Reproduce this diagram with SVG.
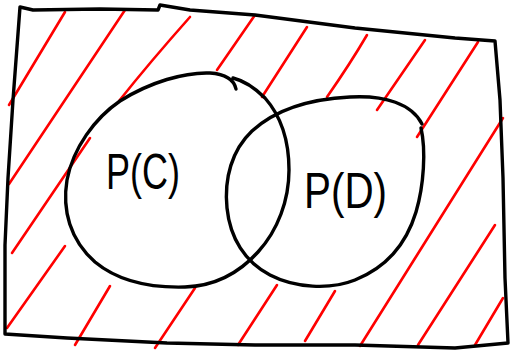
<svg xmlns="http://www.w3.org/2000/svg" width="510" height="356" viewBox="0 0 510 356">
<style>
.ink{fill:none;stroke:#000;stroke-width:3.4;stroke-linecap:round;stroke-linejoin:round}
.hatch{fill:none;stroke:#f00;stroke-width:2.6;stroke-linecap:round}
.lbl{font-family:"Liberation Sans",Arial,sans-serif;font-size:50px;fill:#000}
</style>
<rect width="510" height="356" fill="#fff"/>
<g id="hatching">
<path class="hatch" d="M65,12 L9,105"/>
<path class="hatch" d="M125,10 L9,184"/>
<path class="hatch" d="M190,17 Q150,62 119,101"/>
<path class="hatch" d="M90,138 L12,253"/>
<path class="hatch" d="M255,15 L217,70"/>
<path class="hatch" d="M307,27 L262,97"/>
<path class="hatch" d="M367,35 Q350,64 327,97"/>
<path class="hatch" d="M425,40 L377,110"/>
<path class="hatch" d="M478,42 L417,137"/>
<path class="hatch" d="M503,118 L360,346"/>
<path class="hatch" d="M495,225 L418,345"/>
<path class="hatch" d="M503,298 L475,345"/>
<path class="hatch" d="M335,291 L305,341"/>
<path class="hatch" d="M277,285 L238,345"/>
<path class="hatch" d="M195,288 L155,348"/>
<path class="hatch" d="M110,286 L75,345"/>
<path class="hatch" d="M65,246 L7,328"/>
</g>
<g id="frame">
<path class="ink" d="M20,7 L33,10 L100,9 L158,10 L160,5 L190,10 L255,15 L355,28 L455,38 L495,41 L500,100 L503,178 L505,278 L508,343 L455,348 L355,345 L255,345 L167,343 L67,338 L5,334 L5,245 L8,178 L13,100 Z"/>
</g>
<g id="circle-c">
<path class="ink" d="M236,89 C234,80 225,74 210,73 C185,72 150,82 120,101 C95,118 73,148 67,180 C62,210 70,240 95,262 C118,281 150,288 185,287 C215,286 240,272 258,252 C278,230 289,200 289,170 C289,140 280,115 265,98 C255,88 245,81 233,78"/>
<text class="lbl" x="106" y="189" textLength="74" lengthAdjust="spacingAndGlyphs">P(C)</text>
</g>
<g id="circle-d">
<path class="ink" d="M421,128 C426,150 424,185 416,212 C406,245 385,268 355,280 C330,290 295,288 270,275 C245,262 230,238 227,208 C224,178 232,150 252,131 C275,110 310,99 350,97 C385,95 412,104 422,124"/>
<text class="lbl" x="304" y="208" textLength="83" lengthAdjust="spacingAndGlyphs">P(D)</text>
</g>
</svg>
